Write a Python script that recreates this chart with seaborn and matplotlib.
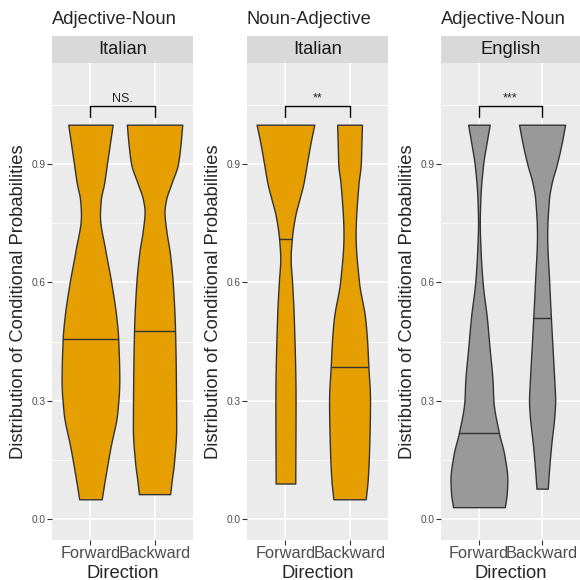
import numpy as np
import matplotlib
matplotlib.use("Agg")
import matplotlib.pyplot as plt
from matplotlib.ticker import FixedLocator
import seaborn as sns

# categories and panel texts
directions = ["Forward", "Backward"]
titles = ["Adjective-Noun", "Noun-Adjective", "Adjective-Noun"]
languages = ["Italian", "Italian", "English"]
signif = ["NS.", "**", "***"]
y_ticks = [0.0, 0.3, 0.6, 0.9]
y_tick_labels = ["0.0", "0.3", "0.6", "0.9"]

# violin profiles: probability grid and relative density
it_an_fwd_y = [0.05, 0.10, 0.18, 0.27, 0.35, 0.46, 0.51, 0.60, 0.68, 0.77, 0.81, 0.85, 0.90, 0.95, 1.0]
it_an_fwd_dens = [0.39, 0.50, 0.69, 0.93, 1.0, 0.96, 0.90, 0.72, 0.52, 0.33, 0.36, 0.47, 0.57, 0.67, 0.77]
it_an_bwd_y = [0.063, 0.10, 0.14, 0.23, 0.35, 0.48, 0.60, 0.68, 0.73, 0.78, 0.81, 0.85, 0.90, 0.95, 1.0]
it_an_bwd_dens = [0.54, 0.60, 0.67, 0.75, 0.74, 0.71, 0.63, 0.52, 0.41, 0.345, 0.40, 0.58, 0.81, 0.90, 0.96]

it_na_fwd_y = [0.09, 0.30, 0.51, 0.60, 0.66, 0.71, 0.77, 0.81, 0.85, 0.90, 0.95, 1.0]
it_na_fwd_dens = [0.34, 0.35, 0.29, 0.23, 0.18, 0.22, 0.34, 0.48, 0.62, 0.74, 0.86, 1.0]
it_na_bwd_y = [0.05, 0.10, 0.18, 0.30, 0.39, 0.45, 0.51, 0.60, 0.72, 0.85, 0.90, 0.95, 1.0]
it_na_bwd_dens = [0.56, 0.63, 0.68, 0.71, 0.65, 0.61, 0.54, 0.33, 0.21, 0.31, 0.39, 0.41, 0.43]

en_an_fwd_y = [0.03, 0.065, 0.10, 0.16, 0.22, 0.30, 0.35, 0.43, 0.51, 0.60, 0.68, 0.75, 0.81, 0.90, 0.95, 1.0]
en_an_fwd_dens = [0.91, 0.98, 1.0, 0.90, 0.70, 0.51, 0.48, 0.38, 0.28, 0.13, 0.06, 0.03, 0.05, 0.15, 0.26, 0.38]
en_an_bwd_y = [0.077, 0.10, 0.18, 0.27, 0.30, 0.35, 0.43, 0.51, 0.60, 0.72, 0.81, 0.85, 0.90, 0.95, 1.0]
en_an_bwd_dens = [0.20, 0.22, 0.31, 0.44, 0.46, 0.43, 0.37, 0.31, 0.25, 0.18, 0.24, 0.33, 0.52, 0.68, 0.81]

# medians per panel (Forward, Backward)
it_an_medians = [0.456, 0.478]
it_na_medians = [0.709, 0.386]
en_an_medians = [0.219, 0.510]

fills = ["#E69F00", "#E69F00", "#999999"]

panels = [
    [(it_an_fwd_y, it_an_fwd_dens), (it_an_bwd_y, it_an_bwd_dens), it_an_medians],
    [(it_na_fwd_y, it_na_fwd_dens), (it_na_bwd_y, it_na_bwd_dens), it_na_medians],
    [(en_an_fwd_y, en_an_fwd_dens), (en_an_bwd_y, en_an_bwd_dens), en_an_medians],
]


def smooth_outline(x, y, xn):
    # monotone cubic (pchip) so the violin edge is drawn as a curve
    x = np.asarray(x, float)
    y = np.asarray(y, float)
    h = np.diff(x)
    d = np.diff(y) / h
    m = np.zeros_like(y)
    m[0], m[-1] = d[0], d[-1]
    for k in range(1, len(x) - 1):
        if d[k - 1] * d[k] > 0:
            w1 = 2 * h[k] + h[k - 1]
            w2 = h[k] + 2 * h[k - 1]
            m[k] = (w1 + w2) / (w1 / d[k - 1] + w2 / d[k])
    idx = np.clip(np.searchsorted(x, xn) - 1, 0, len(x) - 2)
    t = (xn - x[idx]) / h[idx]
    h00 = 2 * t**3 - 3 * t**2 + 1
    h10 = t**3 - 2 * t**2 + t
    h01 = -2 * t**3 + 3 * t**2
    h11 = t**3 - t**2
    return h00 * y[idx] + h10 * h[idx] * m[idx] + h01 * y[idx + 1] + h11 * h[idx] * m[idx + 1]


sns.set_theme(style="darkgrid", rc={
    "axes.facecolor": "#EBEBEB",
    "grid.color": "white",
})
plt.rcParams['font.family'] = ['Liberation Sans', 'DejaVu Sans']

W = H = 580
fig = plt.figure(figsize=(5.8, 5.8), dpi=100)


def box(x0, y0, x1, y1):
    return [x0 / W, 1 - y1 / H, (x1 - x0) / W, (y1 - y0) / H]


lefts = [52, 247, 441]
rights = [193, 388, 580]
top, bottom, strip_top = 63, 540, 36

for i in range(3):
    l, r = lefts[i], rights[i]
    ax = fig.add_axes(box(l, top, r, bottom))
    fwd, bwd, meds = panels[i]
    dmax = max(max(fwd[1]), max(bwd[1]))
    for j, (ys, dens) in enumerate([fwd, bwd]):
        yy = np.linspace(ys[0], ys[-1], 300)
        hw = 0.45 * np.clip(smooth_outline(ys, dens, yy), 0.005, None) / dmax
        ax.fill_betweenx(yy, j - hw, j + hw, facecolor=fills[i],
                         edgecolor="#333333", linewidth=1.0, zorder=3)
        w = np.interp(meds[j], yy, hw)
        ax.plot([j - w, j + w], [meds[j], meds[j]], color="#333333", lw=1.0, zorder=4)

    # significance bracket
    ax.plot([0, 0, 1, 1], [1.019, 1.047, 1.047, 1.019], color="black", lw=1.0, zorder=4)
    ax.text(0.5, 1.058, signif[i], ha="center", va="baseline", fontsize=9)

    ax.set_xlim(-0.6, 1.6)
    ax.set_ylim(-0.0533, 1.1565)
    ax.set_xticks([0, 1])
    ax.set_xticklabels(directions, fontsize=11.8, color="#4D4D4D")
    ax.set_yticks(y_ticks)
    ax.set_yticklabels(y_tick_labels, fontsize=7.3, color="#4D4D4D")
    ax.yaxis.set_minor_locator(FixedLocator([0.15, 0.45, 0.75, 1.05]))
    ax.grid(which="major", color="white", lw=1.1)
    ax.grid(which="minor", axis="y", color="white", lw=0.55)
    ax.tick_params(which="major", bottom=True, left=True, length=3.5, width=0.8,
                   color="#333333", pad=1)
    ax.tick_params(which="minor", length=0)
    for s in ax.spines.values():
        s.set_visible(False)

    # facet strip
    st = fig.add_axes(box(l, strip_top, r, top))
    st.set_facecolor("#D9D9D9")
    st.set_xticks([])
    st.set_yticks([])
    st.grid(False)
    for s in st.spines.values():
        s.set_visible(False)
    st.text(0.5, 0.5, languages[i], ha="center", va="center", fontsize=13.2,
            color="#1A1A1A", transform=st.transAxes)

    fig.text(l / W, 1 - 20 / H, titles[i], ha="left", va="center", fontsize=13.2)
    fig.text((l - 33.5) / W, 1 - (top + bottom) / 2 / H,
             "Distribution of Conditional Probabilities",
             rotation=90, ha="center", va="center", fontsize=13.2)
    fig.text((l + r) / 2 / W, 1 - 573 / H, "Direction", ha="center", va="center",
             fontsize=13.2)

fig.savefig("out.png", dpi=100)
